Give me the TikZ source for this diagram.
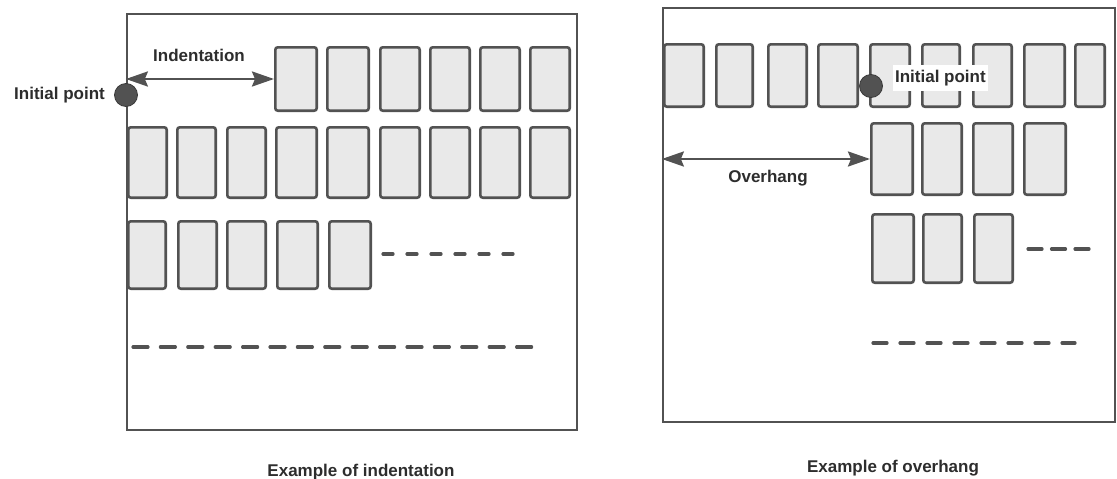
\documentclass[tikz,border=0pt]{standalone}
\usepackage{fontspec}
\setmainfont{Liberation Sans}
\usetikzlibrary{arrows.meta}

\definecolor{ink}{RGB}{82,82,82}
\definecolor{textink}{RGB}{45,45,45}
\definecolor{cardfill}{RGB}{233,233,233}

\tikzset{
  x=1pt, y=-1pt,
  frame/.style={draw=ink, line width=2.3pt, inner sep=0pt},
  card/.style={draw=ink, line width=2.6pt, fill=cardfill, rounded corners=2.5pt, inner sep=0pt},
  lbl/.style={font=\bfseries\fontsize{17}{20}\selectfont, text=textink, inner sep=1pt},
  dimarrow/.style={draw=ink, line width=2.6pt,
    {Stealth[length=22pt,width=15pt,inset=3pt]}-{Stealth[length=22pt,width=15pt,inset=3pt]}},
  pointdot/.style={circle, fill=ink, draw=ink!70!black, line width=0.8pt, minimum size=23pt, inner sep=0pt},
  fillline/.style={draw=ink, line width=3.2pt, line cap=round},
}

% \card{name}{left}{top}{right}{bottom}: one stippled card, given by its outer edges
\newcommand\card[5]{%
  \node[card, minimum width={#4-#2-2.6}, minimum height={#5-#3-2.6}]
    (#1) at ({(#2+#4)/2},{(#3+#5)/2}) {};}

\begin{document}
\begin{tikzpicture}
\useasboundingbox (0,0) rectangle (1117,479);

% ---------------- indentation ----------------
\node[frame, minimum width=450, minimum height=416] (leftframe) at (352,222) {};

% first line, indented
\card{La1}{274}{46}{318}{112}
\card{La2}{326}{46}{370}{112}
\card{La3}{379}{46}{421}{112}
\card{La4}{429}{46}{471}{112}
\card{La5}{479}{46}{521}{112}
\card{La6}{529}{46}{571}{112}
% second line
\card{Lb1}{127}{126}{168}{199}
\card{Lb2}{176}{126}{217}{199}
\card{Lb3}{226}{126}{267}{199}
\card{Lb4}{275}{126}{318}{199}
\card{Lb5}{326}{126}{370}{199}
\card{Lb6}{379}{126}{421}{199}
\card{Lb7}{429}{126}{471}{199}
\card{Lb8}{479}{126}{521}{199}
\card{Lb9}{529}{126}{571}{199}
% third line
\card{Lc1}{127}{220}{167}{290}
\card{Lc2}{177}{220}{218}{290}
\card{Lc3}{226}{220}{267}{290}
\card{Lc4}{276}{220}{319}{290}
\card{Lc5}{328}{220}{372}{290}

\draw[fillline, dash pattern=on 10pt off 14pt] (383,254) -- (522,254);
\draw[fillline, dash pattern=on 15pt off 12.4pt] (133,347) -- (532,347);

\coordinate (indstart) at (leftframe.west |- La1.west);
\draw[dimarrow] (indstart) -- (La1.west);
\node[lbl] (indlabel) at (199,55) {Indentation};

\node[pointdot] (dotL) at (126,95) {};
\node[lbl, anchor=east] (initL) at ([xshift=-8pt]dotL.west) {Initial point};

\node[lbl] (capL) at (361,472) {Example of indentation};

% ---------------- overhang ----------------
\node[frame, minimum width=452, minimum height=414] (rightframe) at (889,215) {};

% first line
\card{Ra1}{663}{43}{705}{108}
\card{Ra2}{715}{43}{754}{108}
\card{Ra3}{767}{43}{808}{108}
\card{Ra4}{817}{43}{859}{108}
\card{Ra5}{869}{43}{911}{108}
\card{Ra6}{921}{43}{961}{108}
\card{Ra7}{972}{43}{1013}{108}
\card{Ra8}{1023}{43}{1066}{108}
\card{Ra9}{1074}{43}{1106}{108}
% second line, hanging
\card{Rb1}{870}{122}{914}{196}
\card{Rb2}{921}{122}{963}{196}
\card{Rb3}{972}{122}{1014}{196}
\card{Rb4}{1023}{122}{1067}{196}
% third line
\card{Rc1}{871}{213}{915}{284}
\card{Rc2}{922}{213}{963}{284}
\card{Rc3}{973}{213}{1014}{284}

\draw[fillline, dash pattern=on 14pt off 9.5pt] (1028,249) -- (1089,249);
\draw[fillline, dash pattern=on 14pt off 13pt] (873,343) -- (1075,343);

\coordinate (ovhstart) at (rightframe.west |- Rb1.west);
\draw[dimarrow] (ovhstart) -- (Rb1.west);
\node[lbl] (ovhlabel) at (768,178) {Overhang};

\node[pointdot] (dotR) at (871,86) {};
\node[lbl, fill=white, inner xsep=2pt, inner ysep=5pt, anchor=west] (initR)
  at ([xshift=10pt,yshift=8pt]dotR.east) {Initial point};

\node[lbl] (capR) at (893,468) {Example of overhang};
\end{tikzpicture}
\end{document}
